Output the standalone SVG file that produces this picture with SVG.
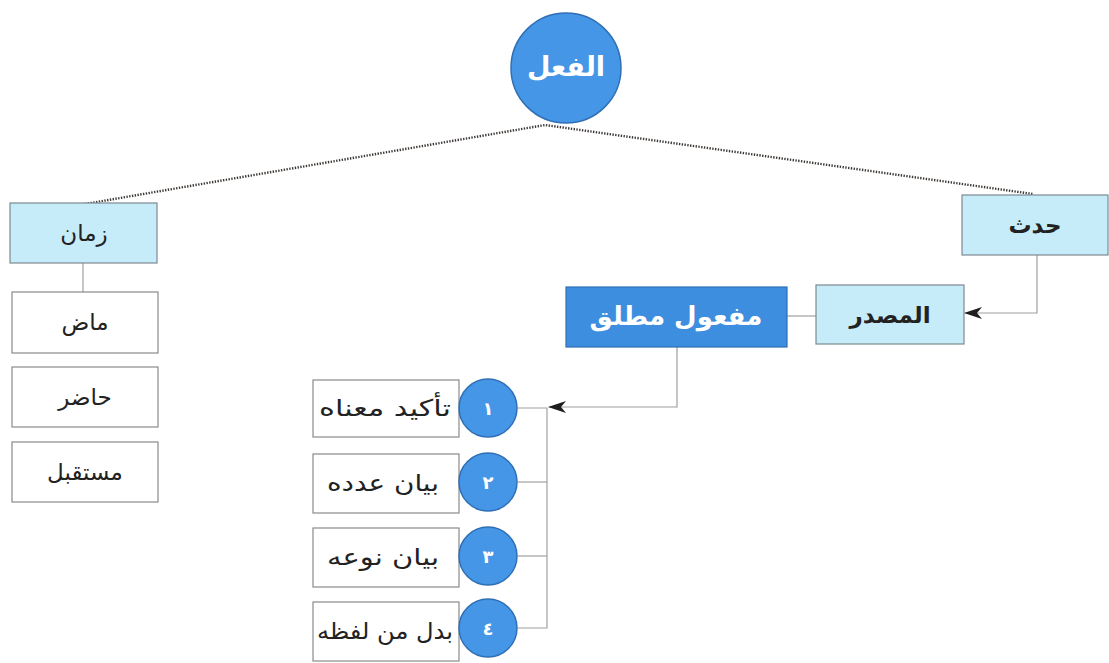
<svg xmlns="http://www.w3.org/2000/svg" width="1109" height="663" viewBox="0 0 1109 663">
  <defs>
    <marker id="arrow" viewBox="0 0 18 12" refX="17" refY="6" markerWidth="18" markerHeight="12" markerUnits="userSpaceOnUse" orient="auto">
      <path d="M18,6 L0,0 L5,6 L0,12 Z" fill="#1e1e1e"/>
    </marker>
  </defs>
  <style>
    .light { fill: #c6ecf9; stroke: #7d8a92; stroke-width: 1.2; }
    .plain { fill: #ffffff; stroke: #8a8a8a; stroke-width: 1.2; }
    .dark { fill: #3e8ee0; stroke: #2f6fb5; stroke-width: 1.2; }
    .ball { fill: #4596e6; stroke: #2f6fb5; stroke-width: 1.5; }
    .t { font-family: "DejaVu Sans", sans-serif; font-size: 23px; fill: #222; text-anchor: middle; dominant-baseline: central; }
    .tw { font-family: "DejaVu Sans", sans-serif; font-weight: bold; fill: #ffffff; text-anchor: middle; dominant-baseline: central; }
    .dots { fill: none; stroke: #3f3a36; stroke-width: 2.4; stroke-dasharray: 1.4 1.4; }
    .wire { fill: none; stroke: #a0a0a0; stroke-width: 1.2; }
  </style>

  <g id="connectors">
    <polyline class="dots" points="85,204 545,125 1033,194"/>
    <line class="wire" x1="83" y1="263" x2="83" y2="292"/>
    <polyline class="wire" points="1037,255 1037,313 965,313" marker-end="url(#arrow)"/>
    <line class="wire" x1="787" y1="316" x2="816" y2="316"/>
    <polyline class="wire" points="677,347 677,407 549,407" marker-end="url(#arrow)"/>
    <polyline class="wire" points="518,408 547,408 547,628 518,628"/>
    <line class="wire" x1="518" y1="482" x2="547" y2="482"/>
    <line class="wire" x1="518" y1="556" x2="547" y2="556"/>
  </g>

  <g id="node-fiel">
    <circle class="ball" cx="566" cy="68" r="55"/>
    <text class="tw" x="566" y="66" font-size="27">الفعل</text>
  </g>

  <g id="node-zaman">
    <rect class="light" x="10" y="203" width="147" height="60"/>
    <text class="t" x="84" y="233">زمان</text>
  </g>
  <g id="node-madi">
    <rect class="plain" x="12" y="292" width="146" height="61"/>
    <text class="t" x="85" y="322">ماض</text>
  </g>
  <g id="node-hadir">
    <rect class="plain" x="12" y="367" width="146" height="60"/>
    <text class="t" x="85" y="397">حاضر</text>
  </g>
  <g id="node-mustaqbal">
    <rect class="plain" x="12" y="442" width="146" height="60"/>
    <text class="t" x="85" y="472">مستقبل</text>
  </g>

  <g id="node-hadath">
    <rect class="light" x="962" y="195" width="146" height="60"/>
    <text class="t" x="1035" y="225" font-weight="bold">حدث</text>
  </g>
  <g id="node-masdar">
    <rect class="light" x="816" y="285" width="148" height="59"/>
    <text class="t" x="890" y="315" font-weight="bold">المصدر</text>
  </g>
  <g id="node-mafool">
    <rect class="dark" x="566" y="287" width="221" height="60"/>
    <text class="tw" x="676" y="316" font-size="26">مفعول مطلق</text>
  </g>

  <g id="item-1">
    <rect class="plain" x="313" y="380" width="146" height="57"/>
    <text class="t" x="385" y="408" textLength="132" lengthAdjust="spacingAndGlyphs">تأكيد معناه</text>
    <circle class="ball" cx="488" cy="408" r="29"/>
    <text class="tw" x="488" y="408" font-size="18">١</text>
  </g>
  <g id="item-2">
    <rect class="plain" x="313" y="454" width="146" height="59"/>
    <text class="t" x="383" y="483" textLength="112" lengthAdjust="spacingAndGlyphs">بيان عدده</text>
    <circle class="ball" cx="488" cy="482" r="29"/>
    <text class="tw" x="488" y="482" font-size="18">٢</text>
  </g>
  <g id="item-3">
    <rect class="plain" x="313" y="528" width="146" height="59"/>
    <text class="t" x="383" y="557" textLength="112" lengthAdjust="spacingAndGlyphs">بيان نوعه</text>
    <circle class="ball" cx="488" cy="556" r="29"/>
    <text class="tw" x="488" y="556" font-size="18">٣</text>
  </g>
  <g id="item-4">
    <rect class="plain" x="313" y="602" width="146" height="59"/>
    <text class="t" x="385" y="631" textLength="136" lengthAdjust="spacingAndGlyphs">بدل من لفظه</text>
    <circle class="ball" cx="488" cy="628" r="29"/>
    <text class="tw" x="488" y="628" font-size="18">٤</text>
  </g>
</svg>
